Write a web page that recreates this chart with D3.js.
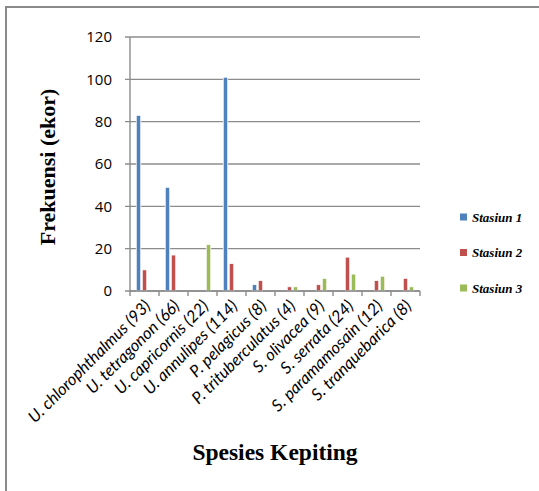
<!DOCTYPE html>
<html>
<head>
<meta charset="utf-8">
<script src="https://cdn.jsdelivr.net/npm/d3@7"></script>
<style>
  body { margin: 0; background: #fff; }
  svg { display: block; }
</style>
</head>
<body>
<svg id="chart" width="539" height="491"></svg>
<script>
var categories = [
  "U. chlorophthalmus (93)", "U. tetragonon (66)", "U. capricornis (22)",
  "U. annulipes (114)", "P. pelagicus (8)", "P. trituberculatus (4)",
  "S. olivacea (9)", "S. serrata (24)", "S. paramamosain (12)", "S. tranquebarica (8)"
];
var seriesNames = ["Stasiun 1", "Stasiun 2", "Stasiun 3"];
var stasiun1 = [83, 49, 0, 101, 3, 0, 0, 0, 0, 0];
var stasiun2 = [10, 17, 0, 13, 5, 2, 3, 16, 5, 6];
var stasiun3 = [0, 0, 22, 0, 0, 2, 6, 8, 7, 2];
var yTicks = [0, 20, 40, 60, 80, 100, 120];
var colors = ["#4F81BD", "#C0504D", "#9BBB59"];

var seriesValues = [stasiun1, stasiun2, stasiun3];

var svg = d3.select("#chart");

// outer frame (only top and left edges show in the picture)
svg.append("rect")
  .attr("x", 6).attr("y", 7)
  .attr("width", 560).attr("height", 520)
  .attr("fill", "none")
  .attr("stroke", "#8a8a8a")
  .attr("stroke-width", 2);

var x0 = d3.scaleBand().domain(categories).range([130, 420]);
var x1 = d3.scaleBand().domain(seriesNames)
  .range([0, x0.bandwidth()])
  .paddingInner(0.25)
  .paddingOuter(1.04);
var y = d3.scaleLinear().domain([0, 120]).range([291, 37]);

// gridlines
svg.append("g")
  .selectAll("line")
  .data(yTicks)
  .enter()
  .append("line")
  .attr("x1", 125)
  .attr("x2", 420)
  .attr("y1", function(d) { return y(d); })
  .attr("y2", function(d) { return y(d); })
  .attr("stroke", "#8c8c8c")
  .attr("stroke-width", 1.4);

// y axis labels
svg.append("g")
  .selectAll("text")
  .data(yTicks)
  .enter()
  .append("text")
  .attr("x", 112)
  .attr("y", function(d) { return y(d); })
  .attr("dy", "0.36em")
  .attr("text-anchor", "end")
  .attr("font-family", "'Open Sans', sans-serif")
  .attr("font-size", 15)
  .attr("fill", "#000")
  .text(function(d) { return d; });

// y axis line
svg.append("line")
  .attr("x1", 130).attr("x2", 130)
  .attr("y1", y(120)).attr("y2", y(0))
  .attr("stroke", "#8c8c8c")
  .attr("stroke-width", 1.4);

// bars
var groups = svg.append("g")
  .selectAll("g")
  .data(categories)
  .enter()
  .append("g")
  .attr("transform", function(d) { return "translate(" + x0(d) + ",0)"; });

groups.selectAll("rect")
  .data(function(d, i) {
    return seriesNames.map(function(s, j) {
      return { series: s, value: seriesValues[j][i], color: colors[j] };
    });
  })
  .enter()
  .filter(function(d) { return d.value > 0; })
  .append("rect")
  .attr("x", function(d) { return x1(d.series); })
  .attr("y", function(d) { return y(d.value); })
  .attr("width", x1.bandwidth())
  .attr("height", function(d) { return y(0) - y(d.value); })
  .attr("fill", function(d) { return d.color; })
  .attr("stroke", "#fff")
  .attr("stroke-width", 0.8);

// x axis line and ticks
svg.append("line")
  .attr("x1", 130).attr("x2", 420)
  .attr("y1", y(0)).attr("y2", y(0))
  .attr("stroke", "#8c8c8c")
  .attr("stroke-width", 1.4);

var tickPos = categories.map(function(c) { return x0(c); }).concat([420]);
svg.append("g")
  .selectAll("line")
  .data(tickPos)
  .enter()
  .append("line")
  .attr("x1", function(d) { return d; })
  .attr("x2", function(d) { return d; })
  .attr("y1", y(0))
  .attr("y2", y(0) + 5)
  .attr("stroke", "#8c8c8c")
  .attr("stroke-width", 1.4);

// x category labels
svg.append("g")
  .selectAll("text")
  .data(categories)
  .enter()
  .append("text")
  .attr("transform", function(d) {
    var cx = x0(d) + x0.bandwidth() / 2 + 3;
    return "translate(" + cx + "," + 303 + ") rotate(-45)";
  })
  .attr("text-anchor", "end")
  .attr("dy", "0.35em")
  .attr("font-family", "Lato, sans-serif")
  .attr("font-style", "italic")
  .attr("font-size", 16.5)
  .attr("fill", "#000")
  .text(function(d) { return d; });

// axis titles
svg.append("text")
  .attr("transform", "translate(55,167) rotate(-90)")
  .attr("text-anchor", "middle")
  .attr("font-family", "'Liberation Serif', serif")
  .attr("font-weight", "bold")
  .attr("font-size", 22)
  .text("Frekuensi (ekor)");

svg.append("text")
  .attr("x", 275)
  .attr("y", 460)
  .attr("text-anchor", "middle")
  .attr("font-family", "'Liberation Serif', serif")
  .attr("font-weight", "bold")
  .attr("font-size", 23.5)
  .text("Spesies Kepiting");

// legend
var legend = svg.append("g")
  .selectAll("g")
  .data(seriesNames)
  .enter()
  .append("g")
  .attr("transform", function(d, i) { return "translate(460," + (217 + i * 35.5) + ")"; });

legend.append("rect")
  .attr("x", 0).attr("y", -3.5)
  .attr("width", 7).attr("height", 7)
  .attr("fill", function(d, i) { return colors[i]; });

legend.append("text")
  .attr("x", 12)
  .attr("dy", "0.35em")
  .attr("font-family", "'Liberation Serif', serif")
  .attr("font-style", "italic")
  .attr("font-weight", "bold")
  .attr("font-size", 13)
  .text(function(d) { return d; });
</script>
</body>
</html>
